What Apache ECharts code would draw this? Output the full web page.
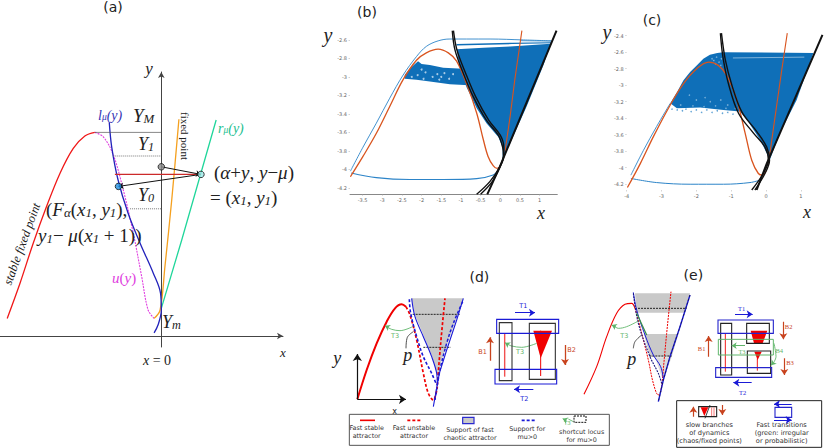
<!DOCTYPE html>
<html>
<head>
<meta charset="utf-8">
<style>html,body{margin:0;padding:0;background:#fff}#chart{width:830px;height:448px}</style>
<script src="https://cdn.jsdelivr.net/npm/echarts@6/dist/echarts.min.js"></script>
</head>
<body>
<div id="chart"></div>
<script>
// (a) sketch curves
var aStable = [[-3.85,.44],[-3.53,1.32],[-3.2,2.32],[-2.87,3.23],[-2.53,4.07],[-2.2,4.69],[-1.91,5.0],[-1.66,5.09]];
var aUnstable = [[-1.66,5.09],[-1.45,4.98],[-1.2,4.53],[-.95,3.65],[-.7,2.57],[-.49,1.48],[-.33,.65],[-.18,.44]];
var aFixed = [[-.18,.44],[-.03,.65],[.09,1.73],[.26,3.4],[.44,5.42]];
var aLeft = [[-1.3,5.34],[-1.24,4.73],[-1.08,3.9],[-.83,3.07],[-.53,2.32],[-.2,1.57],[-.02,1.07],[0,.65],[-.08,.28],[-.18,.08]];
var aRight = [[0,.69],[.51,2.4],[1.37,5.4]];
var aLevels = [[-1.66,5.09],[-1.2,4.5],[-.78,3.18]];
var aJump = [[-1.16,4.04],[.99,4.04]];
var aDots = [[0,4.23],[.99,4.04],[-1.07,3.74]];

// (b) simulation
var bTicksX = [-3.5,-3,-2.5,-2,-1.5,-1,-.5,0,.5,1];
var bTicksY = [-4.2,-4,-3.8,-3.6,-3.4,-3.2,-3,-2.8,-2.6];
var bOrange = [[-3.81,-4.08],[-3.49,-3.86],[-3.15,-3.61],[-2.81,-3.32],[-2.47,-3.03],[-2.13,-2.82],[-1.88,-2.74],[-1.58,-2.7],[-1.32,-2.74],[-1.11,-2.83],[-.86,-3.07],[-.6,-3.39],[-.43,-3.68],[-.31,-3.86],[-.18,-3.96],[-.08,-3.99],[.01,-3.96]];
var bOrangeRight = [[.12,-3.81],[.25,-3.43],[.37,-3.03],[.55,-2.5]];
var bBlueTop = [[-3.81,-4.02],[-3.49,-3.76],[-3.15,-3.5],[-2.81,-3.23],[-2.47,-2.98],[-2.13,-2.78],[-1.88,-2.67],[-1.58,-2.61],[-1.28,-2.59],[-.86,-2.59],[-.26,-2.59],[.59,-2.6],[1.31,-2.61]];
var bBlueBottom = [[-3.79,-4.04],[-3.15,-4.09],[-2.3,-4.11],[-1.45,-4.11],[-.6,-4.1],[-.18,-4.06],[-.05,-4.01]];
var bBand = [[-2.43,-2.98],[-2.3,-2.91],[-2.09,-2.83],[-2.0,-2.86],[-1.79,-2.87],[-1.45,-2.9],[-1.07,-2.91],[-.86,-2.92],[-.79,-3.09],[-1.28,-3.08],[-1.79,-3.05],[-2.13,-3.03],[-2.43,-3.02]];
var bWedge = [[-1.11,-2.7],[-.43,-2.685],[.25,-2.67],[1.28,-2.64],[1.1,-2.87],[.67,-3.32],[.25,-3.72],[.06,-3.9],[.06,-3.76],[-.05,-3.65],[-.35,-3.5],[-.6,-3.34],[-.86,-3.11],[-1.03,-2.91]];
var bStrip = [[-1.11,-2.645],[.3,-2.63],[1.3,-2.625],[1.3,-2.635],[.3,-2.645],[-1.11,-2.66]];
var bStripLight = [[.5,-2.6],[1.3,-2.605],[1.3,-2.62],[.5,-2.615]];
var bHoles = [[-2.1,-2.98],[-1.95,-3.02],[-1.9,-2.95],[-1.72,-3.0],[-1.6,-2.97],[-1.55,-3.03],[-1.42,-2.96],[-1.5,-3.0],[-1.3,-3.02],[-2.25,-3.0],[-2.0,-2.92],[-1.2,-2.97]];
var bBlackRight = [[-.33,-4.27],[-.01,-3.97],[1.43,-2.5]];
var bBlackA = [[-1.22,-2.5],[-1.15,-2.71],[-.94,-2.96],[-.69,-3.21],[-.35,-3.47],[-.05,-3.63],[.06,-3.76],[.08,-3.85],[-.01,-3.97],[-.26,-4.13],[-.6,-4.27]];
var bBlackB = [[-1.19,-2.5],[-1.1,-2.71],[-.88,-2.96],[-.63,-3.21],[-.29,-3.47],[0,-3.63],[.09,-3.76],[.09,-3.85],[0,-3.97],[-.2,-4.13],[-.5,-4.27]];

// (c) simulation
var cTicksX = [-4,-3,-2,-1,0,1];
var cTicksY = [-4.2,-4,-3.8,-3.6,-3.4,-3.2,-3,-2.8,-2.6,-2.4];
var cOrange = [[-3.98,-4.24],[-3.61,-3.95],[-3.23,-3.62],[-2.75,-3.24],[-2.37,-2.98],[-1.99,-2.8],[-1.65,-2.72],[-1.37,-2.76],[-1.13,-2.88],[-.84,-3.18],[-.6,-3.58],[-.41,-3.91],[-.22,-4.07],[-.1,-4.09],[0,-4.04]];
var cOrangeRight = [[.07,-3.95],[.26,-3.38],[.45,-2.82],[.61,-2.37]];
var cBlueLeft = [[-3.88,-4.09],[-3.52,-3.79],[-3.14,-3.5],[-2.75,-3.22]];
var cBlueBottom = [[-3.88,-4.13],[-3.14,-4.18],[-2.18,-4.2],[-1.22,-4.2],[-.46,-4.18],[-.17,-4.15]];
var cFill = [[-2.75,-3.22],[-2.55,-3.08],[-2.37,-2.94],[-2.18,-2.84],[-1.99,-2.76],[-1.8,-2.68],[-1.61,-2.63],[-1.4,-2.61],[-1.22,-2.6],[1.36,-2.61],[.88,-3.18],[.4,-3.58],[.07,-3.95],[.07,-3.87],[-.17,-3.66],[-.55,-3.42],[-.75,-3.32],[-1.22,-3.3],[-1.89,-3.27],[-2.56,-3.28]];
var cSpeckle = [[-2.7,-3.29],[-2.55,-3.3],[-2.4,-3.31],[-2.3,-3.29],[-2.15,-3.32],[-2.0,-3.3],[-1.85,-3.33],[-1.7,-3.3],[-1.55,-3.33],[-1.4,-3.31],[-1.25,-3.34],[-1.1,-3.33],[-.95,-3.35]];
var cLight = [[-1.5,-2.7],[-1.42,-2.66],[-1.35,-2.72],[-1.28,-2.68],[-1.45,-2.74],[-1.55,-2.68],[-1.3,-2.76],[-2.2,-3.12],[-2.0,-3.18],[-1.75,-3.15],[-1.6,-3.2],[-1.3,-3.18],[-1.1,-3.24],[-2.45,-3.24],[-2.1,-3.25],[-1.78,-3.26],[-1.45,-3.25],[-1.15,-3.28],[-.88,-3.28]];
var cStreak = [[-.95,-2.67],[1.1,-2.66]];
var cBlackRight = [[-.27,-4.27],[.02,-3.95],[1.62,-2.39]];
var cBlackA = [[-1.31,-2.37],[-1.24,-2.65],[-1.08,-2.98],[-.79,-3.34],[-.36,-3.58],[-.03,-3.75],[.07,-3.91],[-.08,-4.07],[-.41,-4.27]];
var cBlackB = [[-1.28,-2.37],[-1.17,-2.69],[-.98,-3.0],[-.7,-3.32],[-.27,-3.56],[.02,-3.75],[.1,-3.91],[-.03,-4.07],[-.32,-4.27]];

// (d) schematic
var dGray = [[275,115],[285,165],[310,225],[335,285],[350,340],[355,350],[365,300],[395,215],[430,115]];
var dBlueR = [[430,115],[410,180],[380,270],[358,340],[340,440]];
var dBlueL = [[275,115],[285,170],[310,230],[335,290],[350,340],[352,375]];
var dBlueDash = [[268,118],[272,160],[290,230],[310,290],[335,340],[350,375]];
var dBlueDashR = [[428,125],[400,190],[380,250],[360,330],[345,420]];
var dRed = [[112,418],[140,330],[170,250],[200,185],[225,145],[245,133],[258,140]];
var dRedDash = [[258,140],[270,165],[290,240],[310,340],[325,400],[340,420],[352,380]];
var dRedDashR = [[352,375],[362,250],[375,115]];
var dLevels = [[[278,163],[420,163]],[[310,262],[392,262]]];
var dGreen = [[278,200],[240,212],[215,208],[200,200]];
var dPointer = [[280,215],[262,232],[258,265]];
var dBlackRects = [[538,188,576,362],[628,190,706,358]];
var dBlueRects = [[530,178,716,220],[525,328,710,372]];
var dTriangle = [[640,212],[696,212],[662,295]];
var dSlowLines = [[[554,220],[554,350]],[[662,212],[662,348]]];
var dGreen2 = [[650,250],[605,262],[575,258],[562,252]];
var dAxes = [[[112,418],[112,282]],[[112,418],[258,418]]];
var dBlueArrows = [[[585,158],[645,158]],[[640,388],[582,388]]];
var dRedArrows = [[[510,302],[510,232]],[[735,255],[735,315]]];
var dGreenHeads = [[[205,202],[195,197]],[[565,254],[555,248]],[[740,481],[728,476]]];
var dKeyBox = [[88,463,868,556]];
var dKeyRed = [[120,481],[165,481]];
var dKeyRedDash = [[262,481],[305,481]];
var dKeySupport = [[428,472,462,491]];
var dKeyBlueDash = [[605,481],[645,481]];
var dKeyGreen = [[760,485],[745,477]];
var dKeyLocus = [[762,468,798,487]];

// (e) schematic
var eGray = [[[195,100],[360,100],[345,158],[200,158]],[[222,222],[325,222],[305,290],[240,290]]];
var eGrayLow = [[255,292],[305,292],[285,345],[275,350]];
var eRed = [[42,403],[80,320],[110,230],[140,160],[165,133],[185,130],[195,145]];
var eRedDash = [[195,145],[210,200],[235,300],[250,370],[265,405],[272,395],[278,350]];
var eRedDashR = [[278,350],[290,220],[303,95]];
var eBlueL = [[190,97],[200,150],[225,225],[250,285],[272,320],[280,355]];
var eBlueDash = [[190,100],[205,190],[240,290],[265,340],[275,370]];
var eBlueR = [[360,105],[330,200],[300,290],[280,360],[265,425]];
var eLevels = [[[195,145],[350,145]],[[238,288],[305,288]]];
var eDarkGreen = [[200,160],[230,225]];
var eGreen = [[205,183],[170,200],[145,205],[132,198]];
var ePointer = [[215,225],[195,245],[190,265]];
var eBlackRects = [[452,190,485,345],[530,190,598,250],[532,273,602,340]];
var eBlueRects = [[444,180,610,220],[437,323,605,352]];
var eGreenRects = [[445,238,610,285]];
var eTrap = [[542,212],[592,212],[578,250],[552,250]];
var eTri = [[553,275],[575,275],[563,300]];
var eSlowLines = [[[466,220],[466,335]],[[562,295],[562,332]]];
var eGreen4 = [[612,250],[618,290],[608,312]];
var eBlueArrows = [[[495,163],[548,163]],[[545,368],[490,368]],[[665,432],[612,432]],[[612,480],[665,480]]];
var eRedArrows = [[[416,290],[416,228]],[[640,185],[640,238]],[[643,295],[643,345]],[[370,470],[370,440]],[[457,435],[457,465]]];
var eGreenArrows = [[[525,257],[485,257]],[[138,201],[125,195]],[[610,308],[603,316]]];
var eKeyBox = [[320,422,755,562]];
var eKeyCell = [[386,440,440,470]];
var eKeyTri = [[392,442],[415,442],[403,468]];
var eKeyStripes = [[[425,442],[425,468]],[[432,442],[432,468]]];
var eKeySlash = [[405,475],[420,435]];
var eKeyFast = [[615,442,665,472]];

var BLUE = '#0f6fb8', ORANGE = '#d9541e', BLACK = '#111', SBLUE = '#1a1ad6', SRED = '#f00000', BROWN = '#c8431e', SGREEN = '#5fb56a';
var SERIF = '"Liberation Serif", serif', SANS = '"DejaVu Sans", sans-serif';

function line(g, data, color, w, opts) {
  opts = opts || {};
  return {
    type: 'line', xAxisIndex: g, yAxisIndex: g, data: data, symbol: 'none', clip: false, silent: true,
    smooth: opts.smooth === undefined ? 0.35 : opts.smooth, z: opts.z || 3, animation: false,
    lineStyle: { color: color, width: w, type: opts.type || 'solid', cap: 'butt', join: 'round' }
  };
}
function poly(g, pts, color, z) {
  return {
    type: 'custom', xAxisIndex: g, yAxisIndex: g, data: pts, silent: true, z: z || 1, animation: false, clip: false,
    renderItem: function (params, api) {
      if (params.dataIndex !== 0) return;
      return { type: 'polygon', shape: { points: pts.map(function (p) { return api.coord(p); }) }, style: { fill: color } };
    }
  };
}
function rects(g, list, stroke, w, fill, z) {
  return {
    type: 'custom', xAxisIndex: g, yAxisIndex: g, data: list, silent: true, z: z || 4, animation: false, clip: false,
    encode: { x: [0, 2], y: [1, 3] },
    renderItem: function (params, api) {
      var a = api.coord([api.value(0), api.value(1)]), b = api.coord([api.value(2), api.value(3)]);
      return {
        type: 'rect', shape: { x: a[0], y: a[1], width: b[0] - a[0], height: b[1] - a[1] },
        style: { fill: fill || 'none', stroke: stroke, lineWidth: w }
      };
    }
  };
}
function arrows(g, list, color, w, size, z) {
  return {
    type: 'lines', coordinateSystem: 'cartesian2d', xAxisIndex: g, yAxisIndex: g, silent: true, animation: false, z: z || 6,
    symbol: ['none', 'arrow'], symbolSize: size || 6,
    lineStyle: { color: color, width: w, opacity: 1, curveness: 0 },
    data: list.map(function (c) { return { coords: c }; })
  };
}
function dots(g, pts, color, size, z) {
  return {
    type: 'scatter', xAxisIndex: g, yAxisIndex: g, data: pts, symbolSize: size, silent: true, animation: false, z: z || 2,
    itemStyle: { color: color }
  };
}
function plain(px, py, s, size, color, font, extra) {
  var o = {
    type: 'text', x: px, y: py, silent: true, z: 20,
    style: { text: s, fontSize: size, fill: color || '#222', fontFamily: font || SANS, align: 'center', verticalAlign: 'middle', lineHeight: Math.round(size * 1.25) }
  };
  for (var k in (extra || {})) o[k] = extra[k];
  return o;
}
function math(px, py, s, size, color, align) {
  color = color || '#222';
  return {
    type: 'text', x: px, y: py, silent: true, z: 20,
    style: {
      text: s, fontSize: size, fill: color, fontFamily: SERIF, align: align || 'left', verticalAlign: 'middle',
      rich: {
        i: { fontFamily: SERIF, fontStyle: 'italic', fontSize: size, fill: color },
        r: { fontFamily: SERIF, fontSize: size, fill: color },
        s: { fontFamily: SERIF, fontStyle: 'italic', fontSize: size * 0.68, fill: color, verticalAlign: 'bottom' }
      }
    }
  };
}
// schematic panels: px from crop-style units
function dx(v) { return 320 + v / 3; }
function dy(v) { return 260 + v / 3; }
function ex(v) { return 570 + v / 3; }

var hiddenX = function (g, max) { return { gridIndex: g, type: 'value', min: 0, max: max, show: false }; };
var hiddenY = function (g, max) { return { gridIndex: g, type: 'value', min: 0, max: max, show: false, inverse: true }; };
var sketchAxis = function (g, min, max) {
  return {
    gridIndex: g, type: 'value', min: min, max: max, splitLine: { show: false }, axisTick: { show: false }, axisLabel: { show: false },
    axisLine: { show: true, onZero: true, symbol: ['none', 'arrow'], symbolSize: [5, 6], lineStyle: { color: '#444', width: 1 } }
  };
};
var plotAxis = function (g, min, max, ticks, showLine) {
  return {
    gridIndex: g, type: 'value', min: min, max: max, splitLine: { show: false },
    axisLine: { show: showLine, onZero: false, lineStyle: { color: '#888', width: 1 } },
    axisTick: { show: true, length: 1.5, lineStyle: { color: '#aaa', width: 0.5 }, customValues: ticks },
    axisLabel: { fontSize: 5, color: '#666', margin: 3, fontFamily: SANS, customValues: ticks, hideOverlap: false }
  };
};

var series = [
  // (a)
  line(0, aStable, '#f01818', 1.3),
  line(0, aUnstable, '#e040e0', 1.1, { type: [2, 1] }),
  line(0, aFixed, '#f5a01e', 1.3),
  line(0, aRight, '#1fd69a', 1.3, { smooth: false }),
  line(0, aLeft, '#2222bb', 1.3),
  line(0, [[aLevels[0][0], aLevels[0][1]], [0, aLevels[0][1]]], '#555', 0.7, { smooth: false }),
  line(0, [[aLevels[1][0], aLevels[1][1]], [0, aLevels[1][1]]], '#777', 1, { type: [1, 1], smooth: false }),
  line(0, [[aLevels[2][0], aLevels[2][1]], [0, aLevels[2][1]]], '#777', 1, { type: [1, 1], smooth: false }),
  line(0, aJump, '#cc2a2a', 1.4, { smooth: false }),
  arrows(0, [[aDots[0], aDots[1]], [aDots[1], aDots[2]]], '#111', 1, 5),
  {
    type: 'scatter', xAxisIndex: 0, yAxisIndex: 0, symbolSize: 6.5, silent: true, animation: false, z: 8,
    data: [
      { value: aDots[0], itemStyle: { color: '#8a8a8a' } },
      { value: aDots[1], itemStyle: { color: '#9fe8e8' } },
      { value: aDots[2], itemStyle: { color: '#1e8fe0' } }
    ],
    itemStyle: { borderColor: '#111', borderWidth: 1 }
  },
  // (b)
  poly(1, bWedge, BLUE),
  poly(1, bBand, BLUE),
  poly(1, bStrip, BLUE),
  poly(1, bStripLight, '#7fb5dd'),
  dots(1, bHoles, '#cfe2f2', 2),
  line(1, bBlueTop, '#2c84c8', 0.9),
  line(1, bBlueBottom, '#2c84c8', 1.1),
  line(1, bOrange, ORANGE, 1.3),
  line(1, bOrangeRight, ORANGE, 1.1, { smooth: false }),
  line(1, bBlackA, BLACK, 1.4),
  line(1, bBlackB, BLACK, 1.4),
  line(1, bBlackRight, BLACK, 2, { smooth: false }),
  // (c)
  poly(2, cFill, BLUE),
  dots(2, cSpeckle, '#3f8fcc', 1.6),
  dots(2, cLight, '#8fbde0', 1.6, 2),
  line(2, cStreak, '#cfe2f2', 0.6, { smooth: false }),
  line(2, cBlueLeft, '#2c84c8', 0.9),
  line(2, cBlueBottom, '#2c84c8', 1),
  line(2, cOrange, ORANGE, 1.3),
  line(2, cOrangeRight, ORANGE, 1.1, { smooth: false }),
  line(2, cBlackA, BLACK, 1.4),
  line(2, cBlackB, BLACK, 1.4),
  line(2, cBlackRight, BLACK, 2, { smooth: false }),
  // (d)
  poly(3, dGray, '#c9c9c9'),
  line(3, dLevels[0], BLACK, 0.9, { type: [2, 1], smooth: false }),
  line(3, dLevels[1], BLACK, 0.9, { type: [2, 1], smooth: false }),
  line(3, dRed, SRED, 2),
  line(3, dRedDash, SRED, 1.7, { type: [3, 2] }),
  line(3, dRedDashR, SRED, 1.7, { type: [3, 2] }),
  line(3, dBlueL, SBLUE, 1.1),
  line(3, dBlueR, SBLUE, 1.1, { smooth: false }),
  line(3, dBlueDash, SBLUE, 1.6, { type: [3, 2] }),
  line(3, dBlueDashR, SBLUE, 1.5, { type: [3, 2] }),
  line(3, dGreen, SGREEN, 0.9),
  line(3, dPointer, '#222', 0.8),
  arrows(3, dAxes, BLACK, 1.2, 7),
  rects(3, dBlackRects, '#333', 1.1),
  rects(3, dBlueRects, SBLUE, 1.1),
  poly(3, dTriangle, SRED, 3),
  line(3, dSlowLines[0], '#f25050', 1.4, { smooth: false }),
  line(3, dSlowLines[1], SRED, 1, { smooth: false }),
  line(3, dGreen2, SGREEN, 0.9),
  arrows(3, dBlueArrows, SBLUE, 1.2, 6),
  arrows(3, dRedArrows, BROWN, 1.3, 6),
  arrows(3, dGreenHeads, SGREEN, 0.9, 5, 12),
  rects(3, dKeyBox, '#555', 1, '#fff', 9),
  line(3, dKeyRed, SRED, 1.6, { smooth: false, z: 10 }),
  line(3, dKeyRedDash, SRED, 1.6, { smooth: false, type: [3, 2], z: 10 }),
  rects(3, dKeySupport, '#2a2ad0', 1.2, '#c9c9c9', 10),
  line(3, dKeyBlueDash, SBLUE, 1.6, { smooth: false, type: [3, 2], z: 10 }),
  line(3, dKeyGreen, SGREEN, 0.9, { smooth: false, z: 10 }),
  line(3, [[dKeyLocus[0][0], dKeyLocus[0][1]], [dKeyLocus[0][2], dKeyLocus[0][1]], [dKeyLocus[0][2], dKeyLocus[0][3]], [dKeyLocus[0][0], dKeyLocus[0][3]], [dKeyLocus[0][0], dKeyLocus[0][1]]], '#111', 1, { smooth: false, type: [2, 1], z: 10 }),
  // (e)
  poly(4, eGray[0], '#c9c9c9'),
  poly(4, eGray[1], '#c9c9c9'),
  poly(4, eGrayLow, '#dcdcdc'),
  line(4, eLevels[0], BLACK, 0.9, { type: [2, 1], smooth: false }),
  line(4, eLevels[1], BLACK, 0.9, { type: [2, 1], smooth: false }),
  line(4, eRed, SRED, 1.1),
  line(4, eRedDash, SRED, 1, { type: [2, 1] }),
  line(4, eRedDashR, SRED, 1, { type: [2, 1] }),
  line(4, eBlueL, SBLUE, 1),
  line(4, eBlueDash, '#1a1a80', 1.1, { type: [2, 1] }),
  line(4, eBlueR, SBLUE, 1.4, { smooth: false }),
  line(4, eBlueR, BLACK, 0.6, { smooth: false, type: [2, 2] }),
  line(4, eDarkGreen, '#3d8f4a', 1.3, { smooth: false }),
  line(4, eGreen, SGREEN, 0.9),
  line(4, ePointer, '#222', 0.8),
  rects(4, eBlackRects, '#222', 1.1),
  rects(4, eBlueRects, '#2424cc', 1.1),
  rects(4, eGreenRects, SGREEN, 1),
  poly(4, eTrap, SRED, 3),
  poly(4, eTri, SRED, 3),
  line(4, eSlowLines[0], SRED, 0.9, { smooth: false }),
  line(4, eSlowLines[1], SRED, 0.9, { smooth: false }),
  line(4, eGreen4, SGREEN, 0.9),
  arrows(4, eGreenArrows, SGREEN, 1, 5),
  rects(4, eKeyBox, '#222', 1, '#fff', 5),
  arrows(4, eBlueArrows, SBLUE, 1.2, 6, 8),
  arrows(4, eRedArrows, BROWN, 1.2, 6, 8),
  rects(4, eKeyCell, '#222', 1.1, 'none', 7),
  poly(4, eKeyTri, SRED, 7),
  line(4, eKeyStripes[0], '#f57a7a', 1, { smooth: false, z: 7 }),
  line(4, eKeyStripes[1], '#f57a7a', 1, { smooth: false, z: 7 }),
  line(4, eKeySlash, BLACK, 0.8, { smooth: false, z: 8 }),
  rects(4, eKeyFast, '#2424cc', 1.1, 'none', 7)
];

var graphics = [
  // (a)
  plain(113, 7, '(a)', 14),
  math(149, 68, '{i|y}', 17, '#222', 'center'),
  math(98, 115, '{i|l}{s|μ}{i|(y)}', 14, '#3535b5'),
  math(133, 115, '{i|Y}{s|M}', 19),
  plain(185, 136, 'fixed point', 11, '#222', SERIF, { rotation: -Math.PI / 2 }),
  math(218, 128, '{i|r}{s|μ}{i|(y)}', 14, '#22c090'),
  math(138, 144, '{i|Y}{s|1}', 18),
  math(138, 195, '{i|Y}{s|0}', 18),
  math(214, 172, '{r|(}{i|α}{r|+}{i|y}{r|, }{i|y}{r|−}{i|μ}{r|)}', 19),
  math(210, 197, '{r|= (}{i|x}{s|1}{r|, }{i|y}{s|1}{r|)}', 19),
  math(46, 209, '{r|(}{i|F}{s|α}{r|(}{i|x}{s|1}{r|, }{i|y}{s|1}{r|),}', 19),
  math(38, 235, '{i|y}{s|1}{r|− }{i|μ}{r|(}{i|x}{s|1}{r| + 1))}', 19),
  plain(22, 244, 'stable fixed point', 12.5, '#222', SERIF, { rotation: 70 * Math.PI / 180, style: { text: 'stable fixed point', fontSize: 12.5, fontStyle: 'italic', fill: '#222', fontFamily: SERIF, align: 'center', verticalAlign: 'middle' } }),
  math(112, 278, '{i|u}{r|(}{i|y}{r|)}', 15, '#e040e0'),
  math(162, 322, '{i|Y}{s|m}', 18),
  math(283, 352, '{i|x}', 13, '#222', 'center'),
  math(157, 360, '{i|x}{r| = 0}', 14, '#222', 'center'),
  // (b)
  plain(367, 12, '(b)', 14),
  math(328, 35, '{i|y}', 20, '#222', 'center'),
  math(541, 213, '{i|x}', 18, '#222', 'center'),
  // (c)
  plain(652, 20, '(c)', 14),
  math(607, 32, '{i|y}', 20, '#222', 'center'),
  math(807, 212, '{i|x}', 18, '#222', 'center'),
  // (d)
  plain(dx(478), dy(50), '(d)', 14),
  plain(dx(225), dy(228), 'T3', 6.5, SGREEN),
  math(dx(263), dy(285), '{i|p}', 18, '#222', 'center'),
  math(dx(52), dy(295), '{i|y}', 18, '#222', 'center'),
  plain(dx(224), dy(453), 'x', 8),
  plain(dx(610), dy(138), 'T1', 6.5, SBLUE),
  plain(dx(613), dy(418), 'T2', 6.5, SBLUE),
  plain(dx(488), dy(277), 'B1', 6.5, BROWN),
  plain(dx(755), dy(270), 'B2', 6.5, BROWN),
  plain(dx(600), dy(277), 'T3', 6.5, SGREEN),
  plain(dx(140), dy(517), 'Fast stable\nattractor', 6.4, '#333'),
  plain(dx(282), dy(517), 'Fast unstable\nattractor', 6.4, '#333'),
  plain(dx(450), dy(523), 'Support of fast\nchaotic attractor', 6.4, '#333'),
  plain(dx(622), dy(519), 'Support for\nmu>0', 6.4, '#333'),
  plain(dx(742), dy(488), 'T3', 5.5, SGREEN),
  plain(dx(785), dy(527), 'shortcut locus\nfor mu>0', 6.4, '#333'),
  // (e)
  plain(ex(370), dy(45), '(e)', 14),
  plain(ex(163), dy(228), 'T3', 6.5, SGREEN),
  math(ex(185), dy(297), '{i|p}', 18, '#222', 'center'),
  plain(ex(515), dy(145), 'T1', 6.5, SBLUE, SERIF),
  plain(ex(518), dy(398), 'T2', 6.5, SBLUE, SERIF),
  plain(ex(395), dy(265), 'B1', 6.5, BROWN, SERIF),
  plain(ex(656), dy(200), 'B2', 6.5, BROWN, SERIF),
  plain(ex(660), dy(308), 'B3', 6.5, BROWN, SERIF),
  plain(ex(628), dy(270), 'B4', 6.5, SGREEN, SERIF),
  plain(ex(516), dy(275), 'T3', 6.5, SGREEN, SERIF),
  plain(ex(418), dy(520), 'slow branches\nof dynamics\n(chaos/fixed points)', 6.6, '#333'),
  plain(ex(635), dy(520), 'Fast transitions\n(green: irregular\nor probabilistic)', 6.6, '#333')
];

var chart = echarts.init(document.getElementById('chart'), null, { renderer: 'svg' });
chart.setOption({
  animation: false,
  backgroundColor: '#fff',
  grid: [
    { left: 0, top: 72, width: 283, height: 275 },
    { left: 350, top: 30.7, width: 207.3, height: 163.6 },
    { left: 626.7, top: 33.2, width: 196.8, height: 156.8 },
    { left: 320, top: 260, width: 290, height: 188 },
    { left: 570, top: 260, width: 260, height: 188 }
  ],
  xAxis: [
    sketchAxis(0, -4.03, 3.04),
    plotAxis(1, -3.82, 1.45, bTicksX, true),
    plotAxis(2, -4, 1.65, cTicksX, false),
    hiddenX(3, 870),
    hiddenX(4, 780)
  ],
  yAxis: [
    sketchAxis(0, -.275, 6.6),
    plotAxis(1, -4.27, -2.5, bTicksY, false),
    plotAxis(2, -4.27, -2.37, cTicksY, false),
    hiddenY(3, 564),
    hiddenY(4, 564)
  ],
  series: series,
  graphic: graphics
});
</script>
</body>
</html>
